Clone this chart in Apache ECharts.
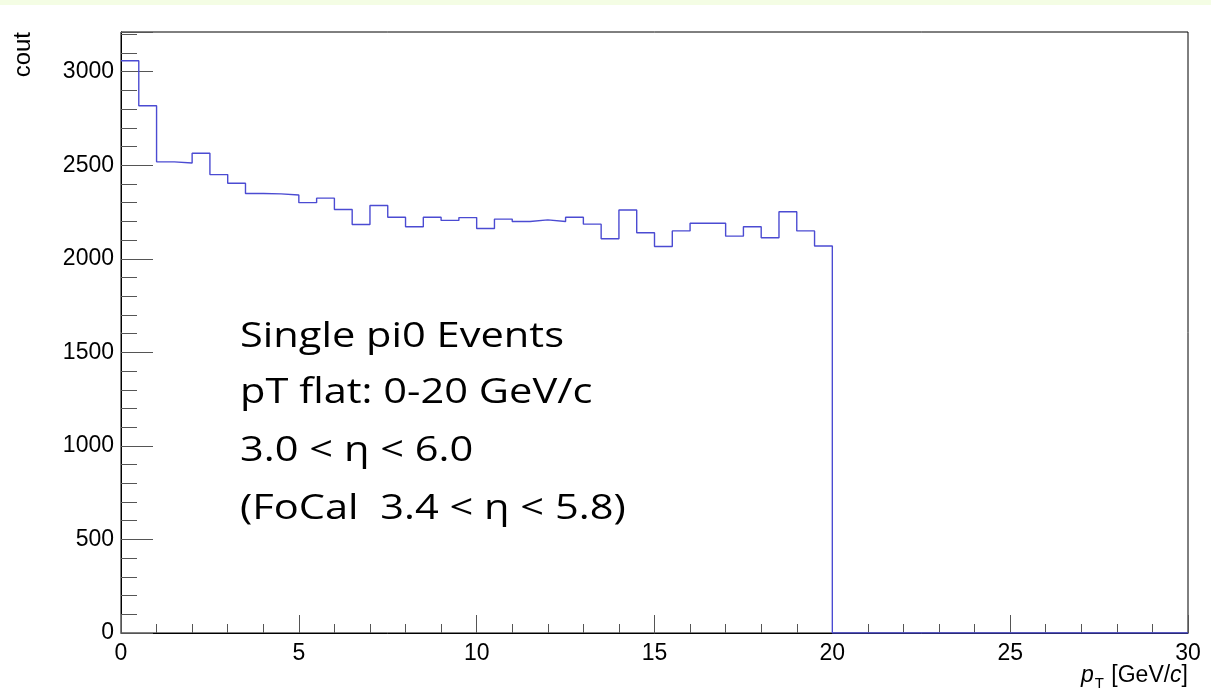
<!DOCTYPE html>
<html>
<head>
<meta charset="utf-8">
<title>cout vs pT</title>
<script src="https://cdn.jsdelivr.net/npm/echarts@6/dist/echarts.min.js"></script>
<style>
  html, body { margin: 0; padding: 0; background: #ffffff; }
  #chart { width: 1211px; height: 699px; }
</style>
</head>
<body>
<div id="chart"></div>
<script>
// Histogram of generated pi0 transverse momentum, 0.5 GeV/c bins over 0-30 GeV/c
const binWidth = 0.5;
const counts = [
  3058, 2818, 2518, 2512, 2564, 2450, 2404, 2349, 2347, 2341,
  2300, 2324, 2263, 2183, 2285, 2222, 2171, 2222, 2205, 2220,
  2162, 2212, 2199, 2208, 2199, 2222, 2185, 2107, 2261, 2139,
  2066, 2149, 2190, 2190, 2121, 2171, 2112, 2251, 2149, 2068,
  0, 0, 0, 0, 0, 0, 0, 0, 0, 0,
  0, 0, 0, 0, 0, 0, 0, 0, 0, 0
];
const xTicks = [0, 5, 10, 15, 20, 25, 30];
const yTicks = [0, 500, 1000, 1500, 2000, 2500, 3000];
const infoLines = [
  'Single pi0 Events',
  'pT flat: 0-20 GeV/c',
  '3.0 < \u03b7 < 6.0',
  '(FoCal  3.4 < \u03b7 < 5.8)'
];

// Step outline: each bin drawn from its lower edge, closed at the last upper edge
const stepData = counts.map((c, i) => [i * binWidth, c]);
stepData.push([counts.length * binWidth, counts[counts.length - 1]]);

const labelFont = { fontFamily: 'Liberation Sans, Arial, sans-serif', fontSize: 23, color: '#000' };
const tickColor = '#555';

// The caption uses a wide, rounded face; stretch Open Sans horizontally to suit
const infoFont = '35px "Open Sans", Lato, sans-serif';
const measureCtx = document.createElement('canvas').getContext('2d');
measureCtx.font = infoFont;
const infoScaleX = 324 / measureCtx.measureText(infoLines[0]).width;

const chart = echarts.init(document.getElementById('chart'), null, { renderer: 'canvas' });

chart.setOption({
  animation: false,
  backgroundColor: '#ffffff',
  grid: {
    left: 121, top: 32, right: 23, bottom: 66,
    show: true, borderColor: '#000', borderWidth: 1, backgroundColor: 'transparent'
  },
  xAxis: [{
    type: 'value', min: xTicks[0], max: xTicks[xTicks.length - 1], interval: 5,
    axisLine: { show: true, onZero: false, lineStyle: { color: '#000', width: 1 } },
    axisTick: { show: true, inside: true, length: 18, lineStyle: { color: tickColor } },
    minorTick: { show: true, splitNumber: 5, length: 9, lineStyle: { color: tickColor } },
    axisLabel: Object.assign({ margin: 9 }, labelFont),
    splitLine: { show: false }
  }],
  yAxis: [{
    type: 'value', min: 0, max: 3212, interval: 500,
    axisLine: { show: true, onZero: false, lineStyle: { color: '#000', width: 1 } },
    axisTick: { show: true, inside: true, length: 32, lineStyle: { color: tickColor } },
    axisLabel: Object.assign({
      margin: 7,
      formatter: v => (yTicks.indexOf(v) >= 0 ? String(v) : '')
    }, labelFont),
    splitLine: { show: false }
  }, {
    // finer 100-count ticks along the left edge
    type: 'value', min: 0, max: 3212, interval: 100, position: 'left',
    axisLine: { show: false },
    axisTick: { show: true, inside: true, length: 16, lineStyle: { color: tickColor } },
    axisLabel: { show: false },
    splitLine: { show: false }
  }],
  series: [{
    type: 'line',
    xAxisIndex: 0, yAxisIndex: 0,
    step: 'end',
    data: stepData,
    showSymbol: false,
    symbol: 'none',
    lineStyle: { color: '#4b4bd2', width: 1.4 },
    z: 3
  }],
  graphic: [
    { type: 'rect', left: 0, top: 0, shape: { width: 1211, height: 5 }, style: { fill: '#f4fde4' }, silent: true },
    {
      type: 'text', x: 23, y: 32, rotation: Math.PI / 2,
      style: { text: 'cout', font: '24px "Liberation Sans", Arial, sans-serif', fill: '#000',
               textAlign: 'right', textVerticalAlign: 'middle' }
    },
    {
      type: 'text', x: 1188, y: 676,
      style: {
        text: '{i|p}{s|T} [GeV/{i|c}]',
        textAlign: 'right', textVerticalAlign: 'middle',
        font: '23px "Liberation Sans", Arial, sans-serif', fill: '#000',
        rich: {
          i: { fontStyle: 'italic', fontSize: 23, fontFamily: 'Liberation Sans', fill: '#000' },
          s: { fontSize: 15, fontFamily: 'Liberation Sans', fill: '#000', padding: [16, 1, 0, 1] }
        }
      }
    }
  ].concat(infoLines.map((t, i) => ({
    type: 'text', x: 240, y: [337, 393, 451, 509][i], scaleX: infoScaleX,
    style: { text: t, font: infoFont, fill: '#000',
             textAlign: 'left', textVerticalAlign: 'middle' }
  })))
});
</script>
</body>
</html>
